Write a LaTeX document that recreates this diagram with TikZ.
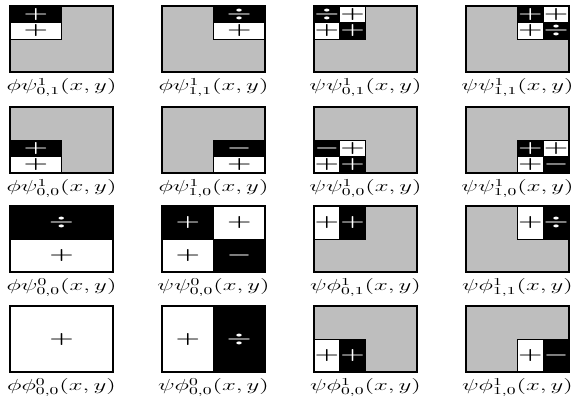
\documentclass[tikz,border=0pt]{standalone}
\usepackage{amsmath}
\usepackage{tikz}
\definecolor{panelgray}{RGB}{190,190,190}
\newcommand{\bfn}[3]{#1#2^{#3}}

\begin{document}
\begin{tikzpicture}[x=0.75pt,y=-0.75pt,
    bg/.style={fill=panelgray},
    frame/.style={draw=black, line width=1.3pt},
    blk/.style={fill=black, draw=black, line width=0.6pt},
    wht/.style={fill=white, draw=black, line width=0.6pt},
    pw/.style={text=white, font=\large\boldmath, xscale=1.75, inner sep=0pt},
    pb/.style={text=black, font=\large\boldmath, xscale=1.75, inner sep=0pt},
    lbl/.style={font=\large, xscale=1.55, anchor=north, inner sep=0pt}]
  \fill[white] (0,0) rectangle (573,396);
  \useasboundingbox (0,0) rectangle (573,396);

  % first row
  \begin{scope}[shift={(10,6)}]
    \fill[bg] (0,0) rectangle (103,66);
    \filldraw[blk] (0,0) rectangle (51.5,16.5);
    \filldraw[wht] (0,16.5) rectangle (51.5,33);
    \draw[frame] (0,0) rectangle (103,66);
    \node[pw] (s11a) at (25.75,8.25) {$+$};
    \node[pb] (s11b) at (25.75,24.75) {$+$};
    \node[lbl] (l11) at (51.5,72) {$\bfn{\phi}{\psi}{1}_{0,1}(x,y)$};
  \end{scope}
  \begin{scope}[shift={(162,6)}]
    \fill[bg] (0,0) rectangle (103,66);
    \filldraw[blk] (51.5,0) rectangle (103,16.5);
    \filldraw[wht] (51.5,16.5) rectangle (103,33);
    \draw[frame] (0,0) rectangle (103,66);
    \node[pw] (s12a) at (77.25,8.25) {$\div$};
    \node[pb] (s12b) at (77.25,24.75) {$+$};
    \node[lbl] (l12) at (51.5,72) {$\bfn{\phi}{\psi}{1}_{1,1}(x,y)$};
  \end{scope}
  \begin{scope}[shift={(314,6)}]
    \fill[bg] (0,0) rectangle (103,66);
    \filldraw[blk] (0,0) rectangle (25.75,16.5);
    \filldraw[wht] (25.75,0) rectangle (51.5,16.5);
    \filldraw[wht] (0,16.5) rectangle (25.75,33);
    \filldraw[blk] (25.75,16.5) rectangle (51.5,33);
    \draw[frame] (0,0) rectangle (103,66);
    \node[pw] (s13a) at (12.9,8.25) {$\div$};
    \node[pb] (s13b) at (38.6,8.25) {$+$};
    \node[pb] (s13c) at (12.9,24.75) {$+$};
    \node[pw] (s13d) at (38.6,24.75) {$+$};
    \node[lbl] (l13) at (51.5,72) {$\bfn{\psi}{\psi}{1}_{0,1}(x,y)$};
  \end{scope}
  \begin{scope}[shift={(466,6)}]
    \fill[bg] (0,0) rectangle (103,66);
    \filldraw[blk] (51.5,0) rectangle (77.25,16.5);
    \filldraw[wht] (77.25,0) rectangle (103,16.5);
    \filldraw[wht] (51.5,16.5) rectangle (77.25,33);
    \filldraw[blk] (77.25,16.5) rectangle (103,33);
    \draw[frame] (0,0) rectangle (103,66);
    \node[pw] (s14a) at (64.4,8.25) {$+$};
    \node[pb] (s14b) at (90.1,8.25) {$+$};
    \node[pb] (s14c) at (64.4,24.75) {$+$};
    \node[pw] (s14d) at (90.1,24.75) {$\div$};
    \node[lbl] (l14) at (51.5,72) {$\bfn{\psi}{\psi}{1}_{1,1}(x,y)$};
  \end{scope}

  % second row
  \begin{scope}[shift={(10,107)}]
    \fill[bg] (0,0) rectangle (103,66);
    \filldraw[blk] (0,33) rectangle (51.5,49.5);
    \filldraw[wht] (0,49.5) rectangle (51.5,66);
    \draw[frame] (0,0) rectangle (103,66);
    \node[pw] (s21a) at (25.75,41.25) {$+$};
    \node[pb] (s21b) at (25.75,57.75) {$+$};
    \node[lbl] (l21) at (51.5,72) {$\bfn{\phi}{\psi}{1}_{0,0}(x,y)$};
  \end{scope}
  \begin{scope}[shift={(162,107)}]
    \fill[bg] (0,0) rectangle (103,66);
    \filldraw[blk] (51.5,33) rectangle (103,49.5);
    \filldraw[wht] (51.5,49.5) rectangle (103,66);
    \draw[frame] (0,0) rectangle (103,66);
    \node[pw] (s22a) at (77.25,41.25) {$-$};
    \node[pb] (s22b) at (77.25,57.75) {$+$};
    \node[lbl] (l22) at (51.5,72) {$\bfn{\phi}{\psi}{1}_{1,0}(x,y)$};
  \end{scope}
  \begin{scope}[shift={(314,107)}]
    \fill[bg] (0,0) rectangle (103,66);
    \filldraw[blk] (0,33) rectangle (25.75,49.5);
    \filldraw[wht] (25.75,33) rectangle (51.5,49.5);
    \filldraw[wht] (0,49.5) rectangle (25.75,66);
    \filldraw[blk] (25.75,49.5) rectangle (51.5,66);
    \draw[frame] (0,0) rectangle (103,66);
    \node[pw] (s23a) at (12.9,41.25) {$-$};
    \node[pb] (s23b) at (38.6,41.25) {$+$};
    \node[pb] (s23c) at (12.9,57.75) {$+$};
    \node[pw] (s23d) at (38.6,57.75) {$+$};
    \node[lbl] (l23) at (51.5,72) {$\bfn{\psi}{\psi}{1}_{0,0}(x,y)$};
  \end{scope}
  \begin{scope}[shift={(466,107)}]
    \fill[bg] (0,0) rectangle (103,66);
    \filldraw[blk] (51.5,33) rectangle (77.25,49.5);
    \filldraw[wht] (77.25,33) rectangle (103,49.5);
    \filldraw[wht] (51.5,49.5) rectangle (77.25,66);
    \filldraw[blk] (77.25,49.5) rectangle (103,66);
    \draw[frame] (0,0) rectangle (103,66);
    \node[pw] (s24a) at (64.4,41.25) {$+$};
    \node[pb] (s24b) at (90.1,41.25) {$+$};
    \node[pb] (s24c) at (64.4,57.75) {$+$};
    \node[pw] (s24d) at (90.1,57.75) {$-$};
    \node[lbl] (l24) at (51.5,72) {$\bfn{\psi}{\psi}{1}_{1,0}(x,y)$};
  \end{scope}

  % third row
  \begin{scope}[shift={(10,206)}]
    \filldraw[blk] (0,0) rectangle (103,33);
    \filldraw[wht] (0,33) rectangle (103,66);
    \draw[frame] (0,0) rectangle (103,66);
    \node[pw] (s31a) at (51.5,16.5) {$\div$};
    \node[pb] (s31b) at (51.5,49.5) {$+$};
    \node[lbl] (l31) at (51.5,72) {$\bfn{\phi}{\psi}{0}_{0,0}(x,y)$};
  \end{scope}
  \begin{scope}[shift={(162,206)}]
    \filldraw[blk] (0,0) rectangle (51.5,33);
    \filldraw[wht] (51.5,0) rectangle (103,33);
    \filldraw[wht] (0,33) rectangle (51.5,66);
    \filldraw[blk] (51.5,33) rectangle (103,66);
    \draw[frame] (0,0) rectangle (103,66);
    \node[pw] (s32a) at (25.75,16.5) {$+$};
    \node[pb] (s32b) at (77.25,16.5) {$+$};
    \node[pb] (s32c) at (25.75,49.5) {$+$};
    \node[pw] (s32d) at (77.25,49.5) {$-$};
    \node[lbl] (l32) at (51.5,72) {$\bfn{\psi}{\psi}{0}_{0,0}(x,y)$};
  \end{scope}
  \begin{scope}[shift={(314,206)}]
    \fill[bg] (0,0) rectangle (103,66);
    \filldraw[wht] (0,0) rectangle (25.75,33);
    \filldraw[blk] (25.75,0) rectangle (51.5,33);
    \draw[frame] (0,0) rectangle (103,66);
    \node[pb] (s33a) at (12.9,16.5) {$+$};
    \node[pw] (s33b) at (38.6,16.5) {$+$};
    \node[lbl] (l33) at (51.5,72) {$\bfn{\psi}{\phi}{1}_{0,1}(x,y)$};
  \end{scope}
  \begin{scope}[shift={(466,206)}]
    \fill[bg] (0,0) rectangle (103,66);
    \filldraw[wht] (51.5,0) rectangle (77.25,33);
    \filldraw[blk] (77.25,0) rectangle (103,33);
    \draw[frame] (0,0) rectangle (103,66);
    \node[pb] (s34a) at (64.4,16.5) {$+$};
    \node[pw] (s34b) at (90.1,16.5) {$\div$};
    \node[lbl] (l34) at (51.5,72) {$\bfn{\psi}{\phi}{1}_{1,1}(x,y)$};
  \end{scope}

  % fourth row
  \begin{scope}[shift={(10,306)}]
    \filldraw[wht] (0,0) rectangle (103,66);
    \draw[frame] (0,0) rectangle (103,66);
    \node[pb] (s41a) at (51.5,33) {$+$};
    \node[lbl] (l41) at (51.5,72) {$\bfn{\phi}{\phi}{0}_{0,0}(x,y)$};
  \end{scope}
  \begin{scope}[shift={(162,306)}]
    \filldraw[wht] (0,0) rectangle (51.5,66);
    \filldraw[blk] (51.5,0) rectangle (103,66);
    \draw[frame] (0,0) rectangle (103,66);
    \node[pb] (s42a) at (25.75,33) {$+$};
    \node[pw] (s42b) at (77.25,33) {$\div$};
    \node[lbl] (l42) at (51.5,72) {$\bfn{\psi}{\phi}{0}_{0,0}(x,y)$};
  \end{scope}
  \begin{scope}[shift={(314,306)}]
    \fill[bg] (0,0) rectangle (103,66);
    \filldraw[wht] (0,33) rectangle (25.75,66);
    \filldraw[blk] (25.75,33) rectangle (51.5,66);
    \draw[frame] (0,0) rectangle (103,66);
    \node[pb] (s43a) at (12.9,49.5) {$+$};
    \node[pw] (s43b) at (38.6,49.5) {$+$};
    \node[lbl] (l43) at (51.5,72) {$\bfn{\psi}{\phi}{1}_{0,0}(x,y)$};
  \end{scope}
  \begin{scope}[shift={(466,306)}]
    \fill[bg] (0,0) rectangle (103,66);
    \filldraw[wht] (51.5,33) rectangle (77.25,66);
    \filldraw[blk] (77.25,33) rectangle (103,66);
    \draw[frame] (0,0) rectangle (103,66);
    \node[pb] (s44a) at (64.4,49.5) {$+$};
    \node[pw] (s44b) at (90.1,49.5) {$-$};
    \node[lbl] (l44) at (51.5,72) {$\bfn{\psi}{\phi}{1}_{1,0}(x,y)$};
  \end{scope}
\end{tikzpicture}
\end{document}
